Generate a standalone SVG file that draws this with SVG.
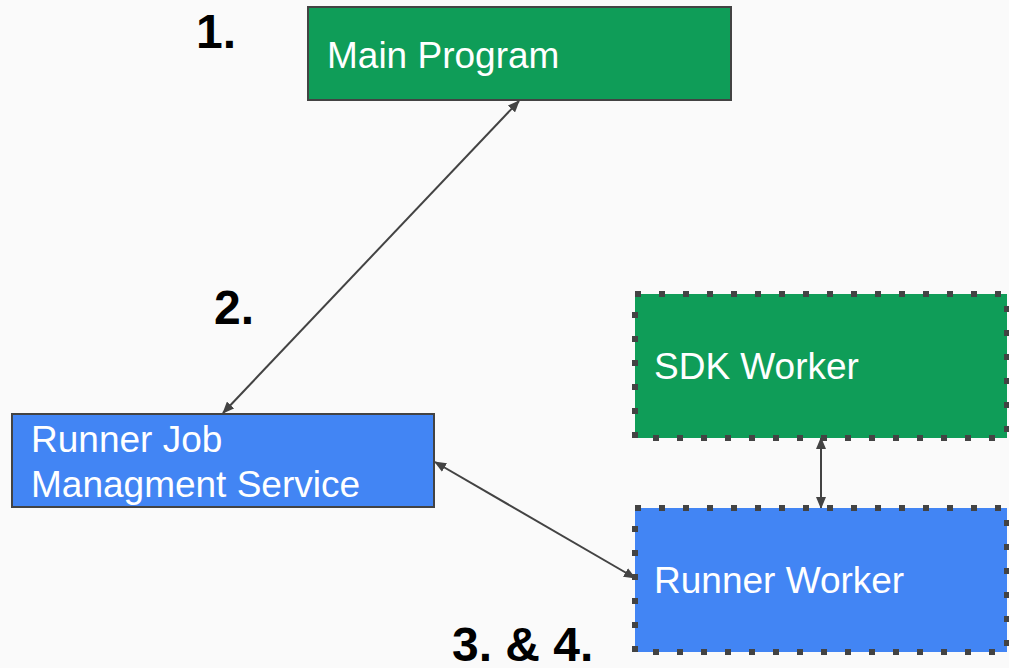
<svg xmlns="http://www.w3.org/2000/svg" width="1009" height="668" viewBox="0 0 1009 668">
  <style>
    .bg { fill: #fafafa; }
    .green { fill: #0f9d58; }
    .blue { fill: #4285f4; }
    .solid { stroke: #434343; stroke-width: 2; }
    .dotted { stroke: #434343; stroke-width: 6; stroke-dasharray: 6 18; }
    .label { font-family: "Liberation Sans", Arial, sans-serif; font-size: 37px; fill: #ffffff; }
    .step { font-family: "Liberation Sans", Arial, sans-serif; font-size: 48px; font-weight: bold; fill: #000000; }
    .conn { stroke: #434343; stroke-width: 2; fill: none; marker-start: url(#arrow); marker-end: url(#arrow); }
  </style>
  <defs>
    <marker id="arrow" viewBox="0 0 12 10" refX="11" refY="5" markerWidth="12" markerHeight="10" markerUnits="userSpaceOnUse" orient="auto-start-reverse">
      <path d="M0,0 L12,5 L0,10 Z" fill="#434343"/>
    </marker>
  </defs>
  <rect class="bg" x="0" y="0" width="1009" height="668"/>

  <g id="connectors">
    <line class="conn" x1="223" y1="413" x2="519" y2="101"/>
    <line class="conn" x1="435" y1="462" x2="635" y2="578"/>
    <line class="conn" x1="821" y1="438" x2="821" y2="508"/>
  </g>

  <g id="main-program">
    <rect class="green solid" x="308" y="7" width="423" height="93"/>
    <text class="label" x="327" y="68">Main Program</text>
  </g>

  <g id="runner-job-management-service">
    <rect class="blue solid" x="12" y="414" width="422" height="93"/>
    <text class="label" x="31" y="452">Runner Job</text>
    <text class="label" x="31" y="497">Managment Service</text>
  </g>

  <g id="sdk-worker">
    <rect class="green dotted" x="635" y="294" width="372" height="144"/>
    <text class="label" x="654" y="379">SDK Worker</text>
  </g>

  <g id="runner-worker">
    <rect class="blue dotted" x="635" y="508" width="372" height="144"/>
    <text class="label" x="654" y="593">Runner Worker</text>
  </g>

  <g id="step-labels">
    <text class="step" x="196" y="48">1.</text>
    <text class="step" x="214" y="324">2.</text>
    <text class="step" x="452" y="661">3. &amp; 4.</text>
  </g>
</svg>
